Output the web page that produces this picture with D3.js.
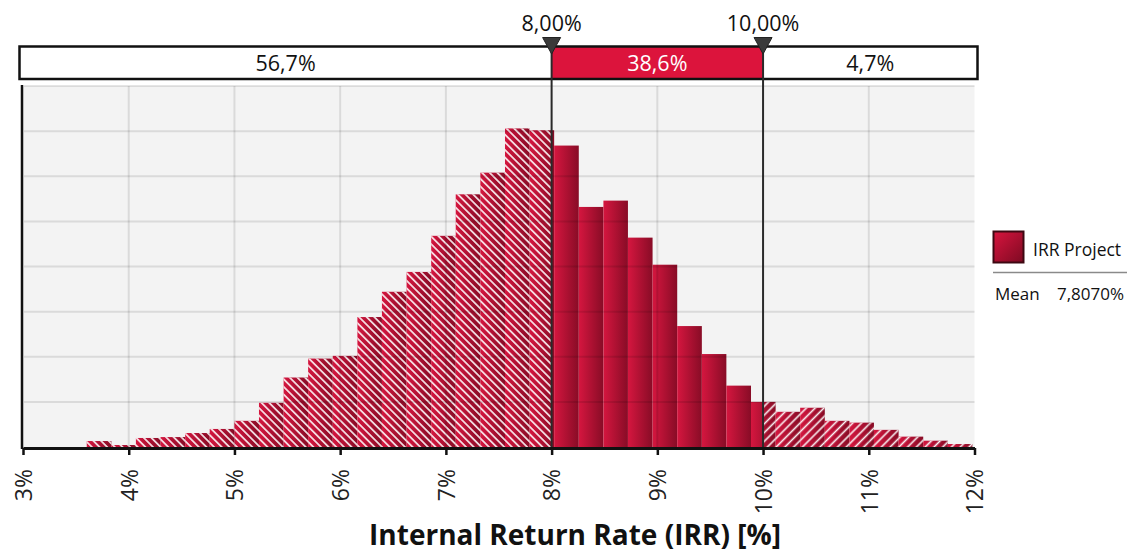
<!DOCTYPE html>
<html><head><meta charset="utf-8">
<script src="https://cdn.jsdelivr.net/npm/d3@7"></script>
<style>
html,body{margin:0;padding:0;background:#fff;}
svg{display:block;font-family:"Open Sans","Noto Sans",sans-serif;}
</style></head><body>
<svg id="chart" width="1129" height="554"></svg>
<script>
// ---- data ----
const binEdges = [3.603, 3.836, 4.068, 4.301, 4.534, 4.766, 4.999, 5.232, 5.465, 5.697,
  5.930, 6.163, 6.395, 6.628, 6.861, 7.093, 7.326, 7.559, 7.792, 8.024,
  8.257, 8.490, 8.722, 8.955, 9.188, 9.421, 9.653, 9.886, 10.119, 10.351,
  10.584, 10.817, 11.049, 11.282, 11.515, 11.748, 11.980];
const density = [0.66, 0.22, 1.0, 1.1, 1.55, 2.0, 2.9, 4.9, 7.7, 9.8,
  10.1, 14.4, 17.2, 19.4, 23.4, 28.0, 30.4, 35.3, 35.1, 33.4,
  26.6, 27.3, 23.2, 20.2, 13.4, 10.3, 6.8, 5.0, 3.9, 4.35,
  2.9, 2.7, 1.9, 1.15, 0.7, 0.33];
const tickValues = [3, 4, 5, 6, 7, 8, 9, 10, 11, 12];
const tickLabels = ["3%", "4%", "5%", "6%", "7%", "8%", "9%", "10%", "11%", "12%"];
const gridValues = [5, 10, 15, 20, 25, 30, 35, 40];
const markerValues = [8, 10];
const markerLabels = ["8,00%", "10,00%"];
const bandLabels = ["56,7%", "38,6%", "4,7%"];
const seriesName = "IRR Project";
const meanLabel = "Mean";
const meanValue = "7,8070%";
const axisTitle = "Internal Return Rate (IRR) [%]";

// ---- layout ----
const svg = d3.select("#chart");
const x = d3.scaleLinear().domain([3, 12]).range([23, 974.5]);
const y = d3.scaleLinear().domain([0, 40]).range([447, 86]);
const crimson = "#dc143c";

const defs = svg.append("defs");
const g1 = defs.append("linearGradient").attr("id", "barGrad")
  .attr("x1", 0).attr("y1", 0).attr("x2", 1).attr("y2", 0);
g1.append("stop").attr("offset", "0%").attr("stop-color", "#d5163f");
g1.append("stop").attr("offset", "100%").attr("stop-color", "#880c26");
const g2 = defs.append("linearGradient").attr("id", "legGrad")
  .attr("x1", 0).attr("y1", 0).attr("x2", 1).attr("y2", 1);
g2.append("stop").attr("offset", "0%").attr("stop-color", "#d8143e");
g2.append("stop").attr("offset", "100%").attr("stop-color", "#7d0a22");

function hatch(id, w, ang) {
  const p = defs.append("pattern").attr("id", id).attr("patternUnits", "userSpaceOnUse")
    .attr("width", w).attr("height", w).attr("patternTransform", `rotate(${ang})`);
  p.append("line").attr("x1", w / 2).attr("x2", w / 2).attr("y1", -1).attr("y2", w + 1)
    .attr("stroke", "#fff").attr("stroke-width", 1.6).attr("stroke-opacity", 0.95);
}
hatch("hatchL", 5.4, -45);
hatch("hatchR", 6.2, 45);

function clip(id, x0, x1) {
  defs.append("clipPath").attr("id", id).append("rect")
    .attr("x", x0).attr("y", 0).attr("width", x1 - x0).attr("height", y(0) + 1);
}
clip("clipL", 0, x(markerValues[0]));
clip("clipM", x(markerValues[0]), x(markerValues[1]));
clip("clipR", x(markerValues[1]), 1129);

// plot background
svg.append("rect").attr("x", x(3)).attr("y", y(40)).attr("width", x(12) - x(3))
  .attr("height", y(0) - y(40)).attr("fill", "#f3f3f3");

const bins = density.map((v, i) => ({ x0: binEdges[i], x1: binEdges[i + 1], v }));
function bars(clipId, pat) {
  const g = svg.append("g").attr("clip-path", `url(#${clipId})`);
  g.selectAll("rect.b").data(bins).join("rect").attr("class", "b")
    .attr("x", d => x(d.x0)).attr("width", d => x(d.x1) - x(d.x0))
    .attr("y", d => y(d.v)).attr("height", d => y(0) - y(d.v))
    .attr("fill", "url(#barGrad)");
  if (pat) {
    g.selectAll("rect.h").data(bins).join("rect").attr("class", "h")
      .attr("x", d => x(d.x0)).attr("width", d => x(d.x1) - x(d.x0))
      .attr("y", d => y(d.v)).attr("height", d => y(0) - y(d.v))
      .attr("fill", `url(#${pat})`);
  }
}
bars("clipL", "hatchL");
bars("clipM", null);
bars("clipR", "hatchR");

// gridlines over bars (semi-transparent)
const grid = svg.append("g").attr("stroke", "rgba(0,0,0,0.1)").attr("stroke-width", 2);
grid.selectAll("line.h").data(gridValues).join("line").attr("class", "h")
  .attr("x1", x(3) + 1).attr("x2", x(12)).attr("y1", d => y(d)).attr("y2", d => y(d));
grid.selectAll("line.v").data(tickValues.filter(t => t > 3 && t < 12 && !markerValues.includes(t)))
  .join("line").attr("class", "v")
  .attr("x1", d => x(d)).attr("x2", d => x(d)).attr("y1", y(40)).attr("y2", y(0));

// left axis line
svg.append("line").attr("x1", x(3) - 1).attr("x2", x(3) - 1).attr("y1", y(40) - 1).attr("y2", y(0) + 2)
  .attr("stroke", "#111").attr("stroke-width", 2.5);

// bottom axis
const xAxis = d3.axisBottom(x).tickValues(tickValues)
  .tickFormat((d, i) => tickLabels[i]).tickSize(7).tickSizeOuter(0);
const ax = svg.append("g").attr("transform", `translate(0,${y(0) + 1})`).call(xAxis);
ax.select(".domain").attr("stroke", "#111").attr("stroke-width", 3);
ax.selectAll(".tick line").attr("stroke", "#111").attr("stroke-width", 2.5);
ax.selectAll(".tick text").attr("fill", "#222")
  .style("font-size", "23px").style("font-family", "'Open Sans',sans-serif")
  .attr("transform", "rotate(-90)").attr("text-anchor", "end")
  .attr("x", -21).attr("y", 0).attr("dy", "0.36em");

// axis title
svg.append("text").attr("x", 575).attr("y", 545).attr("text-anchor", "middle")
  .style("font-size", "28px").style("font-weight", "bold").attr("fill", "#111").text(axisTitle);

// top band
const bandL = x(3) - 3.5, bandR = x(12) + 3, bandT = 46.5, bandB = 79;
const segs = [[bandL, x(markerValues[0])], [x(markerValues[0]), x(markerValues[1])], [x(markerValues[1]), bandR]];
svg.selectAll("rect.seg").data(segs).join("rect").attr("class", "seg")
  .attr("x", d => d[0]).attr("width", d => d[1] - d[0]).attr("y", bandT).attr("height", bandB - bandT)
  .attr("fill", (d, i) => i === 1 ? crimson : "#fff");
svg.append("rect").attr("x", bandL).attr("y", bandT).attr("width", bandR - bandL).attr("height", bandB - bandT)
  .attr("fill", "none").attr("stroke", "#111").attr("stroke-width", 2.5);
svg.selectAll("text.band").data(bandLabels).join("text").attr("class", "band")
  .attr("x", (d, i) => (segs[i][0] + segs[i][1]) / 2).attr("y", 71).attr("text-anchor", "middle")
  .style("font-size", "21.5px").attr("fill", (d, i) => i === 1 ? "#fff" : "#111").text(d => d);

// marker lines, triangles, labels
svg.selectAll("line.mk").data(markerValues).join("line").attr("class", "mk")
  .attr("x1", d => x(d)).attr("x2", d => x(d)).attr("y1", 40).attr("y2", y(0))
  .attr("stroke", "#2a2a2a").attr("stroke-width", 2);
svg.selectAll("path.tri").data(markerValues).join("path").attr("class", "tri")
  .attr("d", d => `M${x(d) - 9},37.5 L${x(d) + 9},37.5 L${x(d)},54 Z`)
  .attr("fill", "#3a3a3a").attr("stroke", "#222").attr("stroke-width", 1);
svg.selectAll("text.mkl").data(markerLabels).join("text").attr("class", "mkl")
  .attr("x", (d, i) => x(markerValues[i])).attr("y", 31).attr("text-anchor", "middle")
  .style("font-size", "21.5px").attr("fill", "#111").text(d => d);

// legend
const lg = svg.append("g");
lg.append("rect").attr("x", 993.5).attr("y", 231.5).attr("width", 30).attr("height", 31)
  .attr("fill", "url(#legGrad)").attr("stroke", "#3d0812").attr("stroke-width", 2);
lg.append("text").attr("x", 1033).attr("y", 256).style("font-size", "17.5px").attr("fill", "#111").text(seriesName);
lg.append("line").attr("x1", 993).attr("x2", 1127).attr("y1", 272.5).attr("y2", 272.5)
  .attr("stroke", "#8a8a8a").attr("stroke-width", 1.5);
lg.append("text").attr("x", 995).attr("y", 300).style("font-size", "17px").attr("fill", "#111").text(meanLabel);
lg.append("text").attr("x", 1124).attr("y", 300).attr("text-anchor", "end").style("font-size", "17px").attr("fill", "#111").text(meanValue);
</script>
</body></html>
